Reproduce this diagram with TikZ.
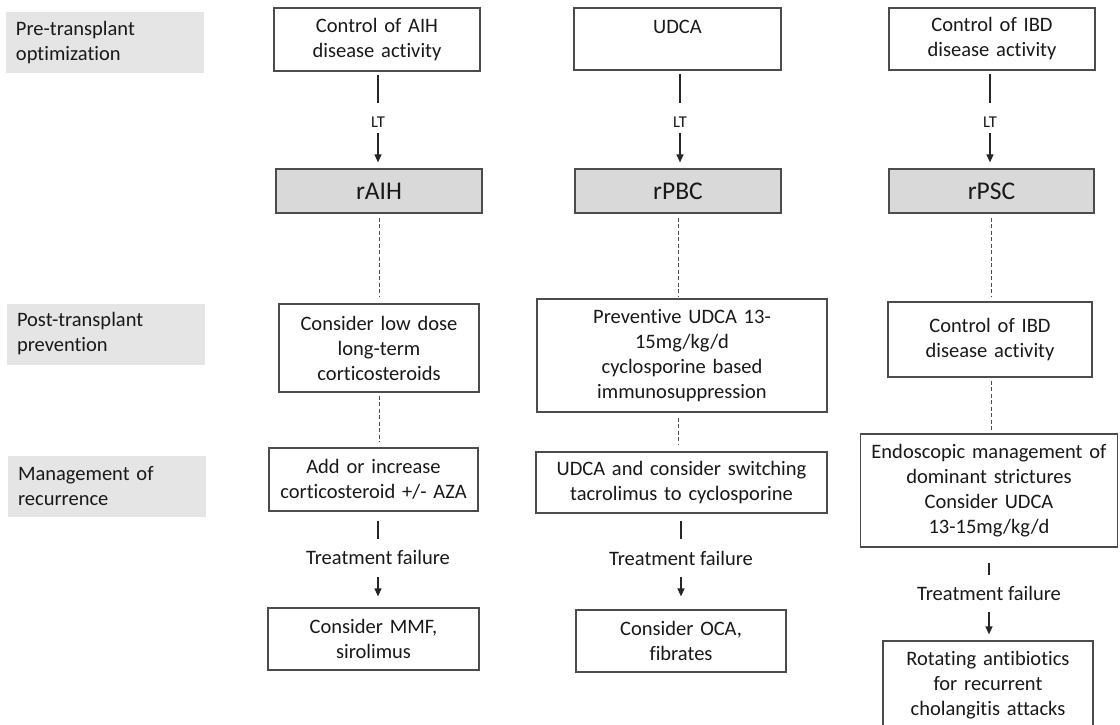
\documentclass[tikz,border=0pt]{standalone}
\usepackage{fontspec}
\setmainfont{Carlito}[Ligatures=NoCommon]
\usetikzlibrary{arrows.meta}
\begin{document}
\begin{tikzpicture}[x=1pt,y=-1pt,
  lab/.style={fill=black!10, text=black!90, text width=178pt, inner xsep=10pt, inner ysep=0pt, align=left, minimum height=61pt, font=\fontsize{20.5}{25}\selectfont},
  box/.style={draw=black!70, line width=1.2pt, fill=white, text=black!90, align=center, inner sep=0pt, font=\fontsize{20.5}{25}\selectfont},
  dbox/.style={box, fill=black!15, minimum height=44pt, font=\fontsize{25.5}{30}\selectfont},
  ltlab/.style={text=black!90, font=\fontsize{16.5}{19}\selectfont, inner sep=0pt, minimum height=22pt},
  tflab/.style={text=black!90, font=\fontsize{20.5}{25}\selectfont, inner sep=0pt, minimum height=24pt},
  conn/.style={draw=black!85, line width=1.3pt},
  arr/.style={draw=black!85, line width=1.3pt, -{Triangle[length=8pt,width=7pt]}},
  dashconn/.style={draw=black!70, line width=1pt, dash pattern=on 4pt off 2.5pt},
]
\useasboundingbox (0,0) rectangle (1120,725);
\clip (0,0) rectangle (1120,725);
\fill[white] (0,0) rectangle (1120,725);

% row labels
\node[lab] (lpre) at (105,42.5) {Pre-transplant\\optimization};
\node[lab] (lpost) at (106,334) {Post-transplant\\prevention};
\node[lab] (lman) at (107,486.5) {Management of\\recurrence};

% column 1: AIH
\node[box, text width=206pt, minimum height=63pt] (c1) at (377,39.5) {Control of AIH\\disease activity};
\node[ltlab] (lt1) at (378,122) {LT};
\node[dbox, text width=206pt] (r1) at (379,191) {rAIH};
\node[box, text width=200pt, minimum height=88pt] (p1) at (379,348) {Consider low dose\\long-term\\corticosteroids};
\node[box, text width=209pt, minimum height=63pt] (m1) at (373.5,479.5) {Add or increase\\corticosteroid +/- AZA};
\node[tflab] (tf1) at (378,557) {Treatment failure};
\node[box, text width=211pt, minimum height=62pt] (f1) at (373.5,639) {Consider MMF,\\sirolimus};

% column 2: PBC
\node[box, text width=207pt, minimum height=62pt] (c2) at (677.5,39) {UDCA\\\mbox{}};
\node[ltlab] (lt2) at (680,122) {LT};
\node[dbox, text width=206pt] (r2) at (678,191) {rPBC};
\node[box, text width=290pt, minimum height=113pt] (p2) at (682,355.5) {Preventive UDCA 13-\\15mg/kg/d\\cyclosporine based\\immunosuppression};
\node[box, text width=291pt, minimum height=61pt] (m2) at (681.5,482.5) {UDCA and consider switching\\tacrolimus to cyclosporine};
\node[tflab] (tf2) at (681,558) {Treatment failure};
\node[box, text width=210pt, minimum height=62pt] (f2) at (681,641) {Consider OCA,\\fibrates};

% column 3: PSC
\node[box, text width=206pt, minimum height=62pt] (c3) at (992,39) {Control of IBD\\disease activity};
\node[ltlab] (lt3) at (990,122) {LT};
\node[dbox, text width=205pt] (r3) at (991.5,191) {rPSC};
\node[box, text width=204pt, minimum height=75pt] (p3) at (990,339.5) {Control of IBD\\disease activity};
\node[box, text width=257pt, minimum height=113pt] (m3) at (989,490.5) {Endoscopic management of\\dominant strictures\\Consider UDCA\\13-15mg/kg/d};
\node[tflab] (tf3) at (989,593) {Treatment failure};
\node[box, text width=210pt, minimum height=88pt] (f3) at (988,685) {Rotating antibiotics\\for recurrent\\cholangitis attacks};

% LT connectors
\draw[conn, shorten <=3pt, shorten >=8pt] (c1.south -| lt1) -- (lt1.north);
\draw[arr, shorten >=6pt] (lt1.south) -- (r1.north -| lt1);
\draw[conn, shorten <=3pt, shorten >=8pt] (c2.south -| lt2) -- (lt2.north);
\draw[arr, shorten >=6pt] (lt2.south) -- (r2.north -| lt2);
\draw[conn, shorten <=3pt, shorten >=8pt] (c3.south -| lt3) -- (lt3.north);
\draw[arr, shorten >=6pt] (lt3.south) -- (r3.north -| lt3);

% dashed connectors
\draw[dashconn, shorten <=4pt, shorten >=6pt] (r1.south) -- (p1.north -| r1.south);
\draw[dashconn, shorten <=3pt, shorten >=6pt] (p1.south) -- (m1.north -| p1.south);
\draw[dashconn, shorten <=4pt, shorten >=2pt] (r2.south) -- (p2.north -| r2.south);
\draw[dashconn, shorten <=5pt, shorten >=7pt] (p2.south -| r2.south) -- (m2.north -| r2.south);
\draw[dashconn, shorten <=4pt, shorten >=4pt] (r3.south) -- (p3.north -| r3.south);
\draw[dashconn, shorten <=3pt, shorten >=2pt] (p3.south -| r3.south) -- (m3.north -| r3.south);

% treatment failure connectors
\draw[conn, shorten <=9pt, shorten >=6pt] (m1.south -| tf1) -- (tf1.north);
\draw[arr, shorten <=8pt, shorten >=11pt] (tf1.south) -- (f1.north -| tf1);
\draw[conn, shorten <=7pt, shorten >=7pt] (m2.south -| tf2) -- (tf2.north);
\draw[arr, shorten <=7pt, shorten >=13pt] (tf2.south) -- (f2.north -| tf2);
\draw[conn, shorten <=15pt, shorten >=6pt] (m3.south -| tf3) -- (tf3.north);
\draw[arr, shorten <=7pt, shorten >=6pt] (tf3.south) -- (f3.north -| tf3);
\end{tikzpicture}
\end{document}
